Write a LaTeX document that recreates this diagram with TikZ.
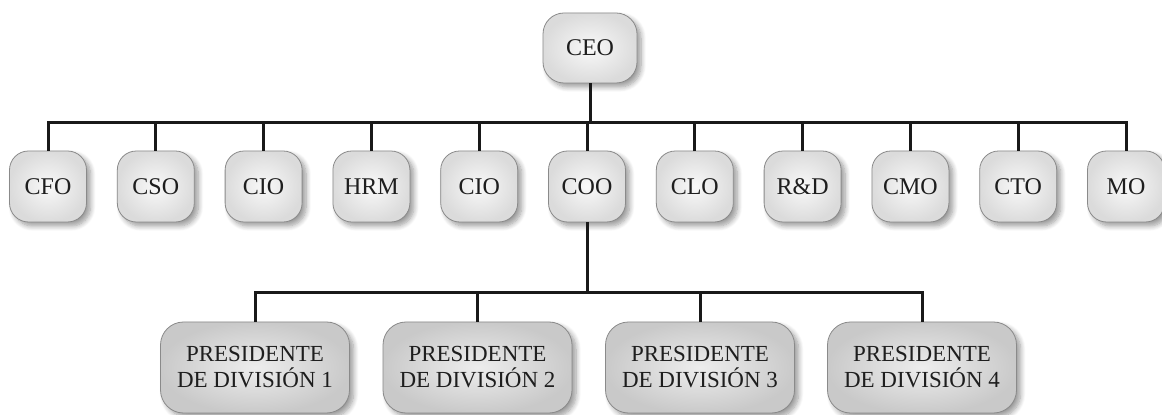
\documentclass[tikz,border=0pt]{standalone}
\usepackage{fontspec}
\setmainfont{Liberation Serif}
\usetikzlibrary{shadows.blur}
\definecolor{boxborder}{HTML}{8A8A8A}
\definecolor{txt}{HTML}{1E1E1E}
\tikzset{
  box/.style={draw=boxborder, line width=0.8pt, inner sep=0pt, text=txt,
    font=\fontsize{24}{26}\selectfont, align=center,
    blur shadow={shadow xshift=4pt, shadow yshift=-4pt, shadow blur steps=8, shadow blur radius=5pt, shadow opacity=40}},
  topbox/.style={box, rounded corners=19pt, minimum width=77pt, minimum height=71pt,
    shading=radial, inner color=gray!5, outer color=gray!28},
  ceobox/.style={box, rounded corners=21pt, minimum width=94pt, minimum height=70pt,
    shading=radial, inner color=gray!5, outer color=gray!28},
  presbox/.style={box, rounded corners=23pt, minimum width=189pt, minimum height=91pt,
    font=\fontsize{23}{26}\selectfont,
    shading=radial, inner color=gray!14, outer color=gray!42},
  conn/.style={draw=black!90, line width=3pt, line join=miter},
}
\begin{document}
\begin{tikzpicture}[x=1pt,y=1pt]
\useasboundingbox (0,0) rectangle (1162,415);
\node[ceobox] (ceo) at (590,367) {CEO};
\node[topbox] (cfo) at (48,228.5) {CFO};
\node[topbox] (cso) at (155.8,228.5) {CSO};
\node[topbox] (cio1) at (263.6,228.5) {CIO};
\node[topbox] (hrm) at (371.4,228.5) {HRM};
\node[topbox] (cio2) at (479.2,228.5) {CIO};
\node[topbox] (coo) at (587,228.5) {COO};
\node[topbox] (clo) at (694.8,228.5) {CLO};
\node[topbox] (rd) at (802.6,228.5) {R\&D};
\node[topbox] (cmo) at (910.4,228.5) {CMO};
\node[topbox] (cto) at (1018.2,228.5) {CTO};
\node[topbox] (mo) at (1126,228.5) {MO};
\node[presbox] (p1) at (255,47.5) {PRESIDENTE\\DE DIVISIÓN 1};
\node[presbox] (p2) at (477.5,47.5) {PRESIDENTE\\DE DIVISIÓN 2};
\node[presbox] (p3) at (700,47.5) {PRESIDENTE\\DE DIVISIÓN 3};
\node[presbox] (p4) at (922,47.5) {PRESIDENTE\\DE DIVISIÓN 4};
\coordinate (bus1) at (587,292);
\coordinate (bus2) at (587,122);
\draw[conn] (ceo.south) -- (ceo.south |- bus1);
\draw[conn] (cfo.north) |- (bus1) -| (mo.north);
\foreach \n in {cso,cio1,hrm,cio2,coo,clo,rd,cmo,cto}
  \draw[conn] (\n.north) -- (\n.north |- bus1);
\draw[conn] (coo.south) -- (bus2);
\draw[conn] (p1.north) |- (bus2) -| (p4.north);
\draw[conn] (p2.north) -- (p2.north |- bus2);
\draw[conn] (p3.north) -- (p3.north |- bus2);
\end{tikzpicture}
\end{document}
